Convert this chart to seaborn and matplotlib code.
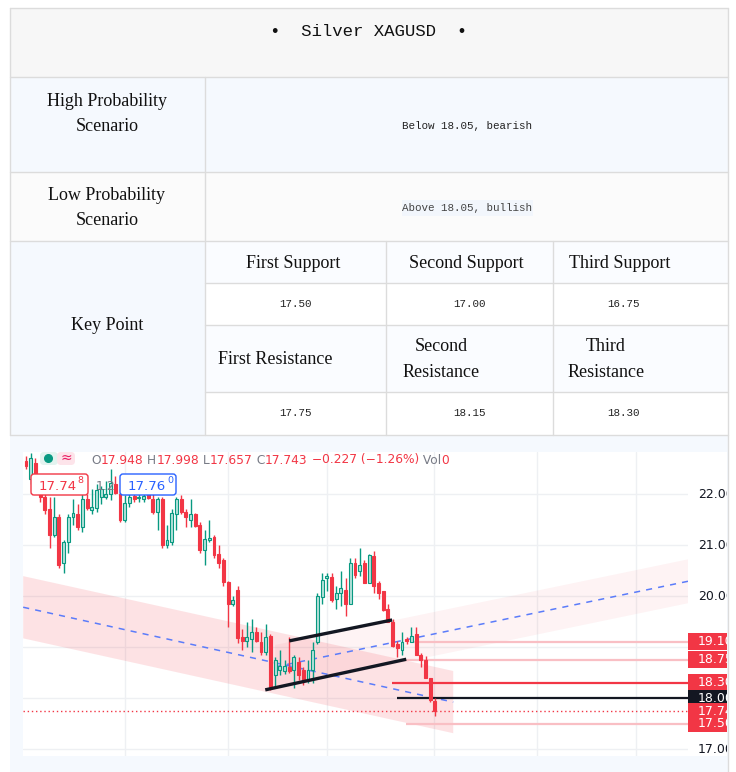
import numpy as np
import pandas as pd
import matplotlib.pyplot as plt
import seaborn as sns
from matplotlib.patches import Rectangle, FancyBboxPatch, Polygon

sns.set_theme(style='white')
plt.rcParams['font.family'] = ['DejaVu Sans']

# ---- table content ----
title = '•  Silver XAGUSD  •'
high_label = 'High Probability\nScenario'
high_text = 'Below 18.05, bearish'
low_label = 'Low Probability\nScenario'
low_text = 'Above 18.05, bullish'
key_label = 'Key Point'
support_names = ['First Support', 'Second Support', 'Third Support']
support_values = ['17.50', '17.00', '16.75']
resist_names = ['First Resistance', 'Second\nResistance', 'Third\nResistance']
resist_values = ['17.75', '18.15', '18.30']

# ---- candles (price) ----
opens = [22.65, 22.30, 22.60, 22.10, 21.95, 21.70, 21.20, 21.55, 20.65, 21.05,
         21.55, 21.60, 21.35, 21.90, 21.68, 21.72, 21.95, 21.95, 22.00, 22.20,
         22.00, 21.50, 21.82, 21.97, 21.92, 21.90, 22.00, 21.90, 21.65, 21.90,
         21.00, 21.05, 21.60, 21.90, 21.65, 21.50, 21.60, 21.40, 20.90, 21.10,
         21.15, 20.82, 20.70, 20.27, 19.85, 20.12, 19.20, 19.12, 19.15, 19.30,
         19.10, 18.90, 19.22, 18.45, 18.55, 18.52, 18.60, 18.55, 18.70, 18.55,
         18.35, 18.55, 19.10, 19.98, 20.35, 20.38, 19.95, 20.05, 20.12, 19.85,
         20.65, 20.50, 20.65, 20.25, 20.78, 20.25, 20.10, 19.75, 19.50, 19.05,
         18.95, 19.15, 19.10, 19.25, 18.85, 18.75, 18.40, 17.948]
highs = [22.75, 22.80, 22.70, 22.30, 22.05, 21.95, 21.95, 21.60, 21.10, 21.60,
         21.90, 21.80, 22.00, 22.00, 22.10, 22.20, 22.15, 22.25, 22.50, 22.35,
         22.10, 21.98, 22.10, 22.05, 22.40, 22.05, 22.10, 22.00, 21.95, 21.95,
         21.40, 21.70, 21.95, 21.98, 21.70, 21.90, 21.62, 21.45, 21.30, 21.50,
         21.20, 21.00, 20.75, 20.30, 20.00, 20.20, 19.35, 19.50, 19.55, 19.40,
         19.30, 19.45, 19.25, 18.80, 18.95, 18.75, 19.20, 18.85, 18.80, 18.60,
         18.75, 19.10, 20.05, 20.45, 20.45, 20.45, 20.20, 20.50, 20.35, 20.75,
         20.75, 20.95, 20.70, 20.82, 20.88, 20.30, 20.10, 19.85, 19.55, 19.12,
         19.30, 19.20, 19.40, 19.40, 18.88, 18.82, 18.40, 17.998]
lows = [22.50, 22.20, 22.00, 21.85, 21.60, 20.95, 21.15, 20.55, 20.45, 20.85,
        21.40, 21.30, 21.25, 21.68, 21.60, 21.65, 21.80, 21.90, 21.88, 22.00,
        21.45, 21.45, 21.75, 21.85, 21.85, 21.85, 21.90, 21.60, 21.30, 20.95,
        20.95, 21.00, 21.30, 21.60, 21.35, 21.35, 21.35, 20.85, 20.60, 21.05,
        20.75, 20.55, 20.20, 19.40, 19.80, 19.08, 18.95, 19.00, 18.90, 19.10,
        18.85, 18.85, 18.15, 18.20, 18.45, 18.48, 18.50, 18.20, 18.35, 18.25,
        18.30, 18.30, 19.05, 19.85, 20.10, 19.88, 19.75, 19.80, 19.60, 19.85,
        20.35, 20.40, 20.25, 20.25, 20.05, 19.95, 19.70, 19.50, 19.00, 18.80,
        18.85, 19.05, 19.10, 18.85, 18.60, 18.40, 17.92, 17.657]
closes = [22.55, 22.70, 22.10, 21.95, 21.68, 21.20, 21.55, 20.60, 21.05, 21.55,
          21.62, 21.35, 21.90, 21.72, 21.75, 22.08, 22.10, 22.00, 22.22, 22.02,
          21.50, 21.82, 21.95, 21.90, 21.95, 21.97, 21.93, 21.65, 21.90, 21.00,
          21.10, 21.62, 21.90, 21.65, 21.55, 21.60, 21.38, 20.90, 21.12, 21.12,
          20.80, 20.65, 20.27, 19.85, 19.92, 19.18, 19.12, 19.20, 19.30, 19.12,
          18.90, 19.20, 18.20, 18.75, 18.62, 18.62, 18.52, 18.80, 18.45, 18.35,
          18.55, 18.95, 20.00, 20.32, 20.40, 19.92, 20.05, 20.15, 19.85, 20.65,
          20.42, 20.60, 20.25, 20.80, 20.20, 20.05, 19.72, 19.50, 19.02, 18.98,
          19.10, 19.12, 19.22, 18.85, 18.75, 18.40, 17.97, 17.743]

# ---- drawn analysis (bar index, price) ----
desc_x = [-0.6, 90.9]
desc_mid = [19.78, 17.92]
desc_half = 0.61
asc_x = [53.0, 140.9]
asc_mid = [18.61, 20.29]
asc_half = 0.43
upper_line_x = [56.0, 77.9]
upper_line_y = [19.12, 19.53]
lower_line_x = [50.9, 80.9]
lower_line_y = [18.16, 18.76]
level_prices = [19.10, 18.75, 18.30, 18.00, 17.50]
level_starts = [82.3, 79.6, 77.9, 78.9, 80.9]
level_colors = ['#f9bfc4', '#f9bfc4', '#f23645', '#131722', '#f9bfc4']
time_grid = [21, 43, 64, 86.8, 108.7, 129.8]
price_ticks = [17, 18, 19, 20, 21, 22]

RED = '#f23645'
GREEN = '#089981'
W, H = 736, 772

df = pd.DataFrame({'i': np.arange(len(opens)), 'open': opens, 'high': highs,
                   'low': lows, 'close': closes})

fig = plt.figure(figsize=(W / 100, H / 100), dpi=100)
fig.patch.set_facecolor('white')


def rect(x0, y0, x1, y1):
    return [x0 / W, 1 - y1 / H, (x1 - x0) / W, (y1 - y0) / H]


# ---- background / table ----
bg = fig.add_axes([0, 0, 1, 1])
bg.set_xlim(0, W)
bg.set_ylim(H, 0)
bg.axis('off')

cells = [
    (10, 8, 728, 77, '#f7f7f7'),
    (10, 77, 728, 172, '#f5f9fe'),
    (10, 172, 728, 241, '#fbfbfb'),
    (10, 241, 205, 435, '#f5f9fe'),
    (205, 241, 728, 283, '#fafcff'),
    (205, 283, 728, 325, '#ffffff'),
    (205, 325, 728, 392, '#fafcff'),
    (205, 392, 728, 435, '#ffffff'),
    (10, 435, 728, 772, '#f5f9fe'),
    (23, 452, 727, 756, '#ffffff'),
]
for x0, y0, x1, y1, c in cells:
    bg.add_patch(Rectangle((x0, y0), x1 - x0, y1 - y0, color=c, lw=0))
bg.add_patch(Rectangle((402, 200), 131, 16, color='#f2f6fc', lw=0))

lc = '#dcdcdc'
for y, x0, x1 in [(8, 10, 728), (77, 10, 728), (172, 10, 728), (241, 10, 728),
                  (283, 205, 728), (325, 205, 728), (392, 205, 728), (435, 10, 728)]:
    bg.plot([x0, x1], [y, y], color=lc, lw=1)
for x, y0, y1 in [(10, 8, 435), (205, 77, 435), (386, 241, 435), (553, 241, 435),
                  (728, 8, 772)]:
    bg.plot([x, x], [y0, y1], color=lc, lw=1)

serif = 'Liberation Serif'
mono = 'Liberation Mono'
bg.text(369, 31, title, family=mono, fontsize=12.5, ha='center', va='center', color='#111')
bg.text(107, 114, high_label, family=serif, fontsize=13, ha='center', va='center',
        linespacing=1.65, color='#111')
bg.text(467, 126, high_text, family=mono, fontsize=7.8, ha='center', va='center', color='#222')
bg.text(107, 208, low_label, family=serif, fontsize=13, ha='center', va='center',
        linespacing=1.65, color='#111')
bg.text(467, 208, low_text, family=mono, fontsize=7.8, ha='center', va='center', color='#444')
bg.text(107, 325, key_label, family=serif, fontsize=13, ha='center', va='center', color='#111')

col_cx = [293, 466, 620]
val_cx = [295, 469, 624]
res_cx = [275, 441, 606]
for k in range(3):
    bg.text(col_cx[k], 263, support_names[k], family=serif, fontsize=13,
            ha='center', va='center', color='#111')
    bg.text(val_cx[k], 304, support_values[k], family=mono, fontsize=7.8,
            ha='center', va='center', color='#222')
    bg.text(res_cx[k], 359.5, resist_names[k], family=serif, fontsize=13,
            ha='center', va='center', multialignment='center', linespacing=1.65, color='#111')
    bg.text(val_cx[k], 413, resist_values[k], family=mono, fontsize=7.8,
            ha='center', va='center', color='#222')

# ---- price chart ----
ymin, ymax = 16.863, 22.824
xmin, xmax = -0.64, 140.85
ax = fig.add_axes(rect(23, 452, 688, 756))
ax.set_facecolor('white')
ax.set_xlim(xmin, xmax)
ax.set_ylim(ymin, ymax)
for s in ax.spines.values():
    s.set_visible(False)
ax.set_xticks([])
ax.set_yticks([])
for p in price_ticks:
    ax.axhline(p, color='#eef0f3', lw=1, zorder=0)
for t in time_grid:
    ax.axvline(t, color='#eef0f3', lw=1, zorder=0)

# channels
dx = np.array(desc_x)
dm = np.array(desc_mid)
ax.add_patch(Polygon(np.column_stack([np.r_[dx, dx[::-1]],
                                      np.r_[dm + desc_half, (dm - desc_half)[::-1]]]),
                     closed=True, facecolor=RED, alpha=0.14, lw=0, zorder=1))
axx = np.array(asc_x)
am = np.array(asc_mid)
ax.add_patch(Polygon(np.column_stack([np.r_[axx, axx[::-1]],
                                      np.r_[am + asc_half, (am - asc_half)[::-1]]]),
                     closed=True, facecolor=RED, alpha=0.06, lw=0, zorder=1))
sns.lineplot(x=desc_x, y=desc_mid, ax=ax, color='#5b7cfa', lw=1.1, dashes=False,
             linestyle=(0, (4, 4)), zorder=2)
sns.lineplot(x=asc_x, y=asc_mid, ax=ax, color='#5b7cfa', lw=1.1, dashes=False,
             linestyle=(0, (4, 4)), zorder=2)

# horizontal levels
for p, x0, c in zip(level_prices, level_starts, level_colors):
    ax.plot([x0, xmax], [p, p], color=c, lw=1.6, zorder=2, solid_capstyle='butt')
ax.axhline(closes[-1], color=RED, lw=1, linestyle=(0, (1, 2)), zorder=2)

# candles
up = df['close'] >= df['open']
colors = np.where(up, GREEN, RED)
ax.vlines(df['i'], df['low'], df['high'], colors=colors, lw=1, zorder=3)
body = (df['close'] - df['open']).abs().clip(lower=0.03)
bottom = df[['open', 'close']].min(axis=1)
ax.bar(df['i'][up], body[up], bottom=bottom[up], width=0.62, color='#b5e2da',
       edgecolor=GREEN, lw=0.8, zorder=4)
ax.bar(df['i'][~up], body[~up], bottom=bottom[~up], width=0.62, color=RED,
       edgecolor=RED, lw=0.8, zorder=4)

# black trend lines
ax.plot(upper_line_x, upper_line_y, color='#131722', lw=2.4, zorder=5, solid_capstyle='butt')
ax.plot(lower_line_x, lower_line_y, color='#131722', lw=2.4, zorder=5, solid_capstyle='butt')

# ---- price scale column ----
ax2 = fig.add_axes(rect(688, 452, 727, 756))
ax2.set_facecolor('white')
ax2.set_xlim(0, 1)
ax2.set_ylim(ymin, ymax)
for s in ax2.spines.values():
    s.set_visible(False)
ax2.set_xticks([])
ax2.set_yticks([])
box_prices = level_prices[:4] + [closes[-1], level_prices[4]]
box_colors = [RED, RED, RED, '#131722', RED, RED]
box_h = 17 / 51
for p in price_ticks:
    # tick labels hidden behind a price box are not shown
    if min(abs(p - b) for b in box_prices) < box_h:
        continue
    ax2.text(0.26, p, f'{p:.2f}', fontsize=9, color='#131722', va='center',
             ha='left', clip_on=True, zorder=1)
for p, c in zip(box_prices, box_colors):
    ax2.add_patch(Rectangle((0, p - box_h / 2), 1, box_h, color=c, lw=0, zorder=2))
    lab = f'{p:.3f}' if p == closes[-1] else f'{p:.2f}'
    ax2.text(0.26, p, lab, fontsize=9, color='white', va='center', ha='left',
             clip_on=True, zorder=3)

# ---- overlay: legend line and badges ----
top = fig.add_axes([0, 0, 1, 1], zorder=10)
top.set_xlim(0, W)
top.set_ylim(H, 0)
top.axis('off')
top.patch.set_alpha(0)

top.add_patch(FancyBboxPatch((40, 452), 18, 13, boxstyle='round,pad=0,rounding_size=4',
                             color='#e3f3ef', lw=0))
top.add_patch(FancyBboxPatch((57, 452), 18, 13, boxstyle='round,pad=0,rounding_size=4',
                             color='#fde4ea', lw=0))
top.plot([48], [458], 'o', color=GREEN, ms=5.5)
top.text(66, 458, '≈', color='#e91e63', fontsize=10, ha='center', va='center')

chg = closes[-1] - closes[-2]
pct = chg / closes[-2] * 100
gray = '#787b86'
parts = [('O', gray), (f'{opens[-1]:.3f}', RED), (' H', gray), (f'{highs[-1]:.3f}', RED),
         (' L', gray), (f'{lows[-1]:.3f}', RED), (' C', gray), (f'{closes[-1]:.3f}', RED),
         (f' −{abs(chg):.3f} (−{abs(pct):.2f}%)', RED), (' Vol', gray), ('0', RED)]
t = top.text(91, 460, parts[0][0], color=parts[0][1], fontsize=8.8, va='center', ha='left')
for s, c in parts[1:]:
    t = top.annotate(s, xy=(1, 0), xycoords=t, xytext=(0, 0), textcoords='offset points',
                     color=c, fontsize=8.8, va='bottom', ha='left')

for x0, x1, c, main, sup in [(31, 88, RED, '17.74', '8'), (120, 176, '#2962ff', '17.76', '0')]:
    top.add_patch(FancyBboxPatch((x0, 474), x1 - x0, 21, boxstyle='round,pad=0,rounding_size=3',
                                 facecolor='white', edgecolor=c, lw=1))
    tt = top.text(x0 + 8, 486, main, color=c, fontsize=9.6, va='center', ha='left')
    top.annotate(sup, xy=(1, 0.55), xycoords=tt, xytext=(0.5, 0), textcoords='offset points',
                 color=c, fontsize=6.8, va='bottom', ha='left')
top.text(96, 486, '1.2', color=gray, fontsize=9, va='center', ha='left')

fig.savefig('out.png', dpi=100)
